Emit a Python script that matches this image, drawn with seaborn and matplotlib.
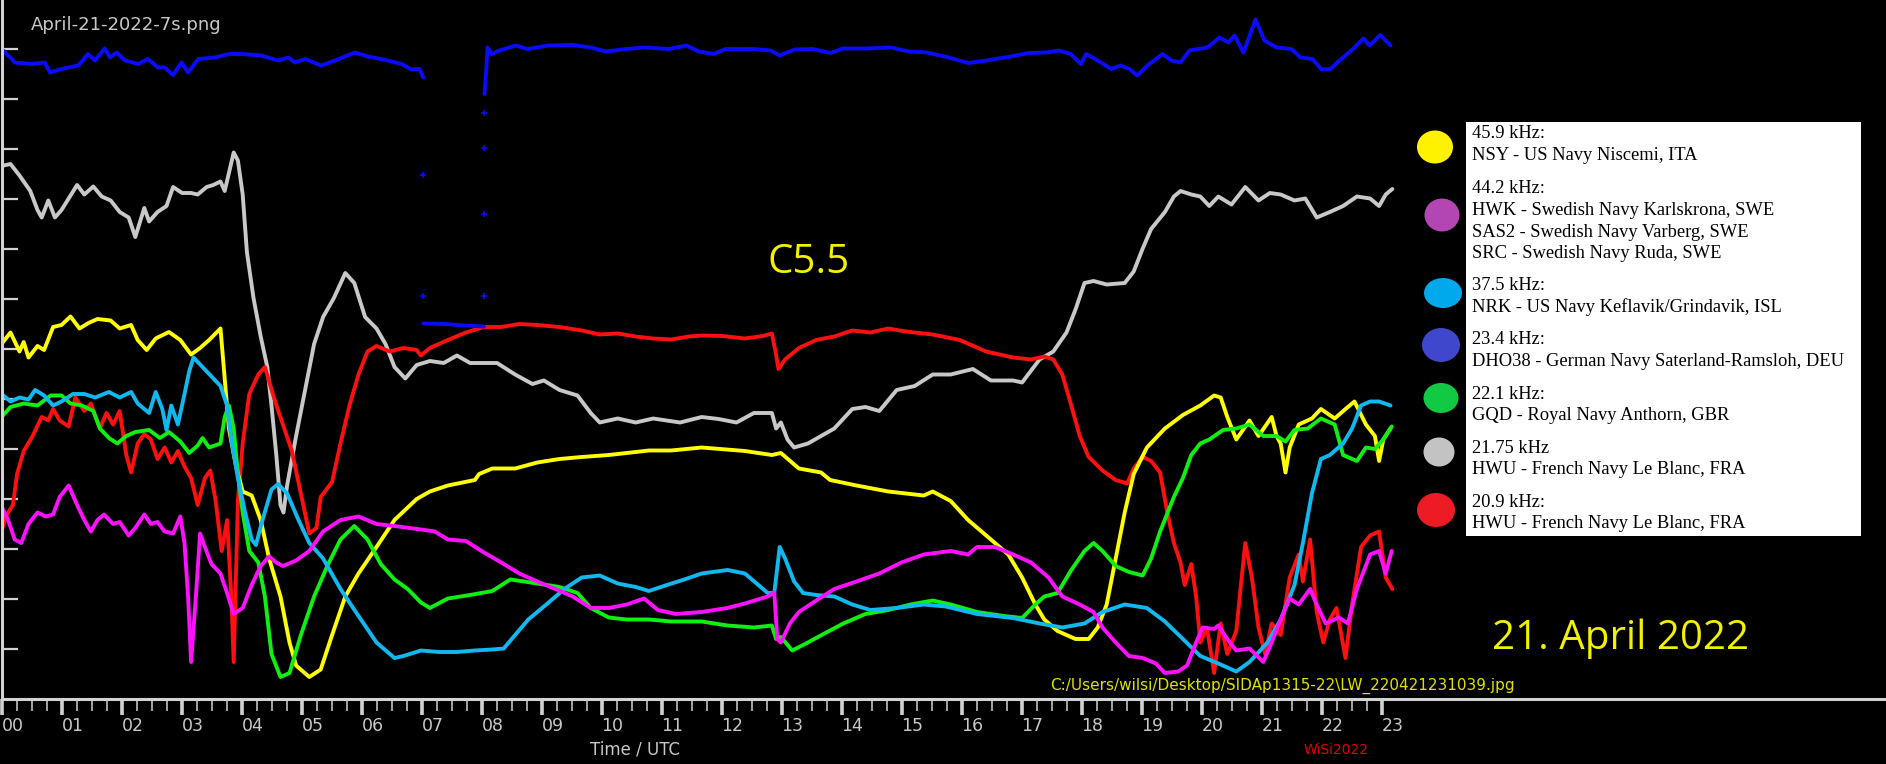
import matplotlib
matplotlib.use('Agg')
import matplotlib.pyplot as plt
import seaborn as sns
from matplotlib.patches import Rectangle, Ellipse

# --- data (hours UTC, relative signal level; one tick = 1 unit) ---
hours = list(range(24))
hour_labels = [f'{h:02d}' for h in hours]

t_yellow = [0.00, 0.15, 0.30, 0.37, 0.45, 0.60, 0.71, 0.86, 1.00, 1.15, 1.30, 1.45, 1.60, 1.82, 1.97,
            2.16, 2.27, 2.42, 2.57, 2.79, 2.98, 3.16, 3.31, 3.46, 3.65, 3.72, 3.79, 3.91, 4.02, 4.17,
            4.32, 4.46, 4.65, 4.80, 4.91, 5.13, 5.32, 5.51, 5.73, 5.95, 6.25, 6.55, 6.92, 7.14, 7.44,
            7.89, 7.96, 8.18, 8.56, 8.93, 9.30, 9.67, 10.12, 10.42, 10.79, 11.16, 11.67, 12.39, 12.84,
            12.99, 13.29, 13.66, 13.81, 14.25, 14.78, 15.37, 15.52, 15.82, 16.11, 16.49, 16.78, 17.01,
            17.23, 17.38, 17.60, 17.90, 18.12, 18.27, 18.42, 18.57, 18.72, 18.87, 19.09, 19.39, 19.69,
            19.98, 20.21, 20.32, 20.43, 20.58, 20.80, 20.95, 21.17, 21.25, 21.32, 21.40, 21.47, 21.62,
            21.84, 21.99, 22.22, 22.40, 22.55, 22.74, 22.89, 22.96, 23.03, 23.15]
v_yellow = [7.10, 7.33, 6.95, 7.14, 6.83, 7.06, 6.98, 7.44, 7.48, 7.65, 7.41, 7.52, 7.60, 7.57, 7.41,
            7.48, 7.18, 6.98, 7.21, 7.34, 7.18, 6.89, 7.02, 7.18, 7.41, 6.41, 5.41, 4.65, 4.15, 4.07,
            3.58, 2.81, 2.05, 1.13, 0.67, 0.44, 0.59, 1.28, 2.05, 2.51, 3.04, 3.58, 4.00, 4.15, 4.27,
            4.38, 4.50, 4.61, 4.61, 4.73, 4.80, 4.84, 4.88, 4.92, 4.97, 4.97, 5.03, 4.96, 4.88,
            4.92, 4.61, 4.53, 4.38, 4.27, 4.15, 4.07, 4.15, 3.96, 3.58, 3.19, 2.89, 2.43,
            1.89, 1.59, 1.36, 1.20, 1.20, 1.43, 1.89, 2.81, 3.73, 4.50, 5.03, 5.41, 5.68,
            5.87, 6.07, 6.03, 5.64, 5.19, 5.57, 5.26, 5.64, 5.26, 5.11, 4.53, 5.03, 5.49,
            5.61, 5.80, 5.61, 5.80, 5.95, 5.49, 5.26, 4.76, 5.19, 5.41]

t_magenta = [0.00, 0.11, 0.22, 0.33, 0.45, 0.60, 0.74, 0.86, 0.97, 1.12, 1.26, 1.38, 1.49, 1.60, 1.71,
             1.86, 1.97, 2.12, 2.23, 2.38, 2.49, 2.60, 2.72, 2.86, 2.98, 3.05, 3.11, 3.16, 3.24, 3.31,
             3.39, 3.50, 3.65, 3.76, 3.87, 4.02, 4.17, 4.32, 4.46, 4.58, 4.69, 4.91, 5.13, 5.36, 5.65,
             5.95, 6.25, 6.55, 6.99, 7.22, 7.44, 7.74, 8.04, 8.33, 8.63, 8.93, 9.23, 9.52, 9.82, 10.12,
             10.42, 10.71, 10.94, 11.24, 11.67, 12.10, 12.39, 12.77, 12.88, 12.93, 12.99, 13.14, 13.29,
             13.58, 13.88, 14.25, 14.63, 15.00, 15.37, 15.82, 16.11, 16.26, 16.56, 16.86, 17.16, 17.45,
             17.68, 17.97, 18.20, 18.35, 18.57, 18.79, 19.02, 19.24, 19.39, 19.61, 19.76, 19.91, 20.02,
             20.21, 20.28, 20.43, 20.58, 20.80, 21.03, 21.17, 21.32, 21.47, 21.62, 21.81, 21.92, 22.07,
             22.29, 22.44, 22.59, 22.81, 22.96, 23.07, 23.17]
v_magenta = [3.85, 3.58, 3.19, 3.12, 3.50, 3.73, 3.65, 3.69, 4.04, 4.27, 3.88, 3.58, 3.35, 3.58, 3.69,
             3.50, 3.54, 3.27, 3.42, 3.69, 3.50, 3.54, 3.35, 3.31, 3.65, 3.12, 2.05, 0.74, 2.05, 3.31,
             3.04, 2.70, 2.51, 2.12, 1.70, 1.82, 2.28, 2.66, 2.85, 2.73, 2.66, 2.77, 2.96, 3.35, 3.58,
             3.65, 3.50, 3.46, 3.39, 3.35, 3.19, 3.16, 2.93, 2.73, 2.51, 2.35, 2.20, 2.05, 1.82, 1.82,
             1.89, 2.01, 1.78, 1.70, 1.74, 1.82, 1.91, 2.05, 2.13, 1.20, 1.13, 1.51, 1.74,
             1.97, 2.20, 2.35, 2.51, 2.73, 2.89, 2.96, 2.89, 3.04, 3.04, 2.89, 2.73, 2.43,
             2.05, 1.89, 1.74, 1.43, 1.13, 0.86, 0.82, 0.71, 0.52, 0.55, 0.67, 1.13, 1.43,
             1.40, 1.47, 1.20, 0.97, 1.01, 0.74, 1.13, 1.59, 2.01, 1.89, 2.20, 1.89, 1.51,
             1.63, 1.51, 2.20, 2.89, 2.96, 2.51, 2.96]

t_cyan = [0.00, 0.15, 0.30, 0.45, 0.56, 0.71, 0.86, 1.00, 1.19, 1.38, 1.56, 1.79, 1.97, 2.16, 2.27,
          2.46, 2.57, 2.68, 2.75, 2.83, 2.94, 3.05, 3.13, 3.20, 3.35, 3.50, 3.65, 3.76, 3.83, 3.94,
          4.06, 4.17, 4.24, 4.35, 4.50, 4.61, 4.76, 4.95, 5.13, 5.36, 5.65, 5.95, 6.25, 6.55, 6.70,
          6.99, 7.29, 7.59, 7.89, 8.18, 8.37, 8.56, 8.78, 9.08, 9.38, 9.67, 9.97, 10.27, 10.57, 10.79,
          11.09, 11.38, 11.67, 12.10, 12.39, 12.77, 12.88, 12.97, 13.06, 13.21, 13.36, 13.58, 13.88,
          14.18, 14.48, 14.92, 15.37, 15.74, 16.26, 16.86, 17.30, 17.68, 18.05, 18.35, 18.72, 19.09,
          19.39, 19.69, 19.98, 20.28, 20.58, 20.80, 21.10, 21.32, 21.55, 21.69, 21.84, 21.99, 22.14,
          22.36, 22.51, 22.66, 22.81, 22.96, 23.15]
v_cyan = [6.10, 5.95, 6.03, 5.99, 6.18, 6.07, 5.87, 5.95, 6.10, 6.10, 6.03, 6.14, 6.03, 6.14, 5.91,
          5.72, 6.14, 5.80, 5.38, 5.87, 5.49, 6.10, 6.56, 6.83, 6.64, 6.45, 6.26, 5.87, 5.19, 4.42,
          3.73, 3.19, 3.08, 3.58, 4.19, 4.30, 4.11, 3.58, 3.12, 2.81, 2.20, 1.66, 1.13, 0.82, 0.86,
          0.97, 0.94, 0.94, 0.97, 0.99, 1.01, 1.28, 1.59, 1.89, 2.20, 2.43, 2.47, 2.31, 2.24, 2.16,
          2.28, 2.39, 2.51, 2.58, 2.51, 2.12, 2.12, 3.04, 2.81, 2.35, 2.12, 2.08, 2.05,
          1.89, 1.78, 1.82, 1.89, 1.85, 1.70, 1.62, 1.51, 1.43, 1.51, 1.74, 1.89, 1.82,
          1.55, 1.20, 0.86, 0.71, 0.55, 0.74, 1.13, 1.59, 2.28, 3.12, 4.11, 4.80, 4.88,
          5.11, 5.41, 5.87, 5.95, 5.95, 5.87]

t_green = [0.00, 0.15, 0.37, 0.60, 0.82, 1.00, 1.15, 1.34, 1.53, 1.64, 1.79, 1.93, 2.08, 2.23, 2.46,
           2.64, 2.79, 2.98, 3.13, 3.27, 3.35, 3.46, 3.65, 3.72, 3.79, 3.87, 3.94, 4.02, 4.13, 4.28,
           4.39, 4.50, 4.65, 4.80, 4.99, 5.21, 5.43, 5.65, 5.88, 6.10, 6.32, 6.55, 6.77, 6.99, 7.14,
           7.44, 7.81, 8.18, 8.48, 8.71, 8.93, 9.30, 9.60, 9.82, 10.12, 10.42, 10.79, 11.16, 11.67,
           12.10, 12.54, 12.84, 12.91, 12.99, 13.18, 13.44, 13.73, 14.03, 14.40, 14.78, 15.15, 15.52,
           15.82, 16.26, 16.71, 17.01, 17.23, 17.38, 17.60, 17.83, 18.05, 18.20, 18.35, 18.57, 18.79,
           19.02, 19.16, 19.31, 19.54, 19.69, 19.83, 19.98, 20.13, 20.36, 20.58, 20.80, 21.03, 21.25,
           21.40, 21.55, 21.77, 21.99, 22.22, 22.36, 22.59, 22.74, 22.89, 23.03, 23.17]
v_green = [5.64, 5.84, 5.91, 5.87, 6.07, 6.07, 5.91, 5.87, 5.76, 5.41, 5.22, 5.11, 5.26, 5.34, 5.38,
           5.22, 5.34, 5.15, 4.92, 5.07, 5.22, 5.03, 5.11, 5.64, 5.87, 5.41, 4.50, 3.73, 2.96, 2.73,
           2.05, 0.90, 0.44, 0.52, 1.28, 2.05, 2.66, 3.19, 3.46, 3.19, 2.70, 2.39, 2.20, 1.93, 1.82,
           2.01, 2.08, 2.16, 2.39, 2.35, 2.31, 2.24, 2.12, 1.82, 1.63, 1.59, 1.59, 1.55, 1.55,
           1.47, 1.43, 1.47, 1.20, 1.24, 0.97, 1.13, 1.32, 1.51, 1.70, 1.78, 1.89, 1.97,
           1.89, 1.74, 1.66, 1.62, 1.89, 2.05, 2.12, 2.58, 2.96, 3.12, 2.96, 2.66, 2.54,
           2.47, 2.81, 3.35, 4.04, 4.42, 4.88, 5.11, 5.19, 5.38, 5.41, 5.49, 5.26, 5.26,
           5.15, 5.38, 5.41, 5.61, 5.49, 4.88, 4.76, 5.03, 5.00, 5.19, 5.45]

t_gray = [0.00, 0.15, 0.30, 0.48, 0.60, 0.67, 0.78, 0.89, 1.00, 1.12, 1.26, 1.38, 1.53, 1.67, 1.82,
          1.97, 2.12, 2.23, 2.38, 2.46, 2.60, 2.75, 2.86, 3.01, 3.16, 3.27, 3.42, 3.53, 3.65, 3.72,
          3.87, 3.94, 4.02, 4.09, 4.20, 4.32, 4.43, 4.50, 4.58, 4.65, 4.70, 4.76, 4.91, 5.06, 5.21,
          5.36, 5.54, 5.73, 5.88, 6.06, 6.25, 6.40, 6.55, 6.73, 6.92, 7.14, 7.37, 7.59, 7.81, 8.04,
          8.26, 8.56, 8.85, 9.04, 9.30, 9.60, 9.82, 9.97, 10.27, 10.57, 10.86, 11.31, 11.67, 11.95,
          12.25, 12.54, 12.84, 12.91, 12.99, 13.10, 13.21, 13.44, 13.66, 13.88, 14.18, 14.40, 14.63,
          14.92, 15.22, 15.52, 15.82, 16.19, 16.49, 16.86, 17.01, 17.30, 17.53, 17.75, 17.90, 18.05,
          18.20, 18.42, 18.72, 18.87, 19.02, 19.16, 19.39, 19.54, 19.65, 19.83, 19.98, 20.13, 20.28,
          20.50, 20.73, 20.95, 21.14, 21.32, 21.55, 21.73, 21.92, 22.14, 22.36, 22.59, 22.81, 22.96,
          23.07, 23.18]
v_gray = [10.66, 10.70, 10.47, 10.16, 9.78, 9.63, 9.97, 9.63, 9.78, 10.01, 10.28, 10.09, 10.25, 10.05, 9.97,
          9.74, 9.63, 9.24, 9.82, 9.55, 9.74, 9.86, 10.24, 10.12, 10.12, 10.09, 10.24, 10.28, 10.35, 10.16,
          10.93, 10.77, 10.09, 8.94, 8.02, 7.25, 6.64, 5.87, 4.88, 3.88, 3.73, 4.27, 5.26, 6.18, 7.10,
          7.64, 8.02, 8.52, 8.32, 7.64, 7.41, 7.10, 6.64, 6.41, 6.68, 6.76, 6.72, 6.87, 6.72, 6.72,
          6.72, 6.49, 6.30, 6.37, 6.18, 6.07, 5.72, 5.53, 5.61, 5.53, 5.61, 5.53, 5.64, 5.60,
          5.53, 5.72, 5.72, 5.41, 5.53, 5.19, 5.03, 5.11, 5.26, 5.41, 5.80, 5.84, 5.76,
          6.18, 6.26, 6.49, 6.49, 6.60, 6.37, 6.37, 6.33, 6.79, 6.95, 7.33, 7.79, 8.32,
          8.36, 8.29, 8.32, 8.55, 9.01, 9.40, 9.74, 10.05, 10.16, 10.09, 10.05, 9.86, 10.05,
          9.89, 10.24, 9.97, 10.12, 10.09, 9.97, 10.01, 9.63, 9.74, 9.86, 10.05, 10.01, 9.86,
          10.09, 10.20]

t_red = [0.00, 0.07, 0.19, 0.26, 0.37, 0.52, 0.67, 0.78, 0.86, 0.97, 1.12, 1.23, 1.38, 1.49, 1.64,
         1.75, 1.86, 1.97, 2.08, 2.16, 2.27, 2.38, 2.49, 2.60, 2.72, 2.83, 2.94, 3.05, 3.16, 3.27,
         3.39, 3.48, 3.57, 3.67, 3.76, 3.83, 3.87, 3.94, 4.02, 4.13, 4.28, 4.39, 4.54, 4.69, 4.84,
         4.99, 5.13, 5.25, 5.32, 5.51, 5.65, 5.80, 5.95, 6.10, 6.25, 6.47, 6.70, 6.92, 6.99, 7.14,
         7.44, 7.74, 8.04, 8.33, 8.63, 8.93, 9.30, 9.67, 9.97, 10.27, 10.57, 10.86, 11.16, 11.46,
         11.67, 12.02, 12.39, 12.69, 12.84, 12.90, 12.95, 13.06, 13.29, 13.58, 13.88, 14.18, 14.48,
         14.78, 15.07, 15.52, 15.97, 16.41, 16.86, 17.16, 17.38, 17.53, 17.68, 17.83, 17.97, 18.12,
         18.35, 18.57, 18.76, 18.87, 19.02, 19.16, 19.31, 19.43, 19.54, 19.65, 19.72, 19.83, 19.91,
         19.98, 20.09, 20.21, 20.32, 20.43, 20.58, 20.65, 20.73, 20.84, 20.95, 21.06, 21.17, 21.32,
         21.47, 21.62, 21.69, 21.81, 21.92, 22.03, 22.14, 22.25, 22.40, 22.51, 22.66, 22.81, 22.96,
         23.07, 23.18]
v_red = [3.35, 3.65, 3.88, 4.50, 4.96, 5.26, 5.64, 5.57, 5.80, 5.57, 5.45, 6.03, 5.76, 5.91, 5.41,
         5.72, 5.49, 5.76, 4.88, 4.53, 5.11, 5.30, 5.19, 4.80, 5.03, 4.73, 4.96, 4.65, 4.42, 3.88,
         4.42, 4.57, 3.96, 2.96, 3.58, 2.05, 0.74, 3.96, 5.11, 6.10, 6.49, 6.64, 6.03, 5.49, 4.96,
         4.11, 3.31, 3.42, 4.04, 4.34, 5.11, 5.87, 6.49, 6.95, 7.06, 6.95, 7.02, 6.98, 6.87, 7.02,
         7.18, 7.33, 7.44, 7.44, 7.50, 7.48, 7.44, 7.37, 7.29, 7.31, 7.25, 7.21, 7.19, 7.25,
         7.27, 7.26, 7.21, 7.26, 7.31, 6.95, 6.60, 6.79, 7.02, 7.18, 7.25, 7.37, 7.33,
         7.41, 7.35, 7.29, 7.18, 6.95, 6.83, 6.79, 6.85, 6.79, 6.49, 5.87, 5.26, 4.84,
         4.57, 4.38, 4.31, 4.61, 4.84, 4.76, 4.53, 3.73, 3.12, 2.73, 2.28, 2.70, 2.05,
         1.13, 1.43, 0.52, 1.51, 0.90, 1.36, 2.20, 3.12, 2.43, 1.43, 0.90, 1.51, 1.28,
         2.43, 2.89, 2.35, 3.19, 1.74, 1.13, 1.59, 1.82, 0.82, 1.89, 3.04, 3.27, 3.35,
         2.43, 2.20]

# DHO38 23.4 kHz: three pieces (before the gap, the low stretch, after the recovery)
t_blue_a = [0.00, 0.17, 0.22, 0.50, 0.72, 0.81, 1.00, 1.28, 1.44, 1.56, 1.72, 1.81, 1.92, 2.06, 2.28,
            2.44, 2.61, 2.72, 2.86, 3.00, 3.11, 3.28, 3.56, 3.78, 4.00, 4.33, 4.61, 4.78, 4.89, 5.06,
            5.33, 5.56, 5.89, 6.11, 6.44, 6.67, 6.83, 6.97, 7.03]
v_blue_a = [13.00, 12.80, 12.73, 12.70, 12.73, 12.53, 12.60, 12.67, 12.90, 12.77, 13.01, 12.83, 12.93, 12.77, 12.70,
            12.80, 12.63, 12.63, 12.48, 12.73, 12.53, 12.80, 12.83, 12.90, 12.90, 12.87, 12.77, 12.83, 12.73, 12.80,
            12.67, 12.77, 12.93, 12.85, 12.77, 12.70, 12.59, 12.60, 12.43]
t_blue_b = [7.03, 7.40, 7.70, 8.04]
v_blue_b = [7.51, 7.50, 7.47, 7.45]
t_blue_c = [8.05, 8.08, 8.10, 8.17, 8.30, 8.57, 8.77, 9.12, 9.52, 9.82, 10.07, 10.42, 10.72, 11.12, 11.42,
            11.62, 11.87, 12.07, 12.52, 12.82, 12.97, 13.22, 13.52, 13.82, 14.02, 14.42, 14.82, 15.12, 15.42,
            15.72, 16.12, 16.42, 16.82, 17.12, 17.42, 17.62, 17.82, 17.99, 18.08, 18.27, 18.50, 18.65, 18.80,
            18.93, 19.10, 19.35, 19.50, 19.65, 19.80, 20.10, 20.30, 20.45, 20.55, 20.70, 20.90, 21.05, 21.25,
            21.50, 21.65, 21.85, 22.00, 22.15, 22.30, 22.50, 22.70, 22.80, 22.98, 23.15]
v_blue_c = [12.10, 12.60, 13.03, 12.90, 12.97, 13.07, 13.00, 13.07, 13.08, 13.03, 12.95, 13.00, 13.03, 13.00, 13.07,
            12.95, 12.90, 13.00, 13.00, 12.97, 12.87, 12.99, 13.00, 12.92, 13.01, 13.01, 13.03, 12.95, 12.93,
            12.85, 12.72, 12.77, 12.85, 12.92, 12.93, 12.97, 12.90, 12.70, 12.90, 12.77, 12.60, 12.67, 12.60,
            12.47, 12.67, 12.90, 12.77, 12.73, 12.97, 13.03, 13.23, 13.13, 13.27, 12.93, 13.59, 13.17, 13.03,
            13.00, 12.83, 12.80, 12.59, 12.60, 12.77, 12.97, 13.21, 13.07, 13.28, 13.07]
t_blue_dots = [7.03, 7.03, 8.04, 8.04, 8.04, 8.04]
v_blue_dots = [10.48, 8.07, 8.07, 9.70, 11.03, 11.73]

legend_colors = ['#fff200', '#b446b4', '#00a8ec', '#3f48cc', '#12c944', '#c3c3c3', '#ed1c24']
legend_lines = [
    ['45.9 kHz:', 'NSY - US Navy Niscemi, ITA'],
    ['44.2 kHz:', 'HWK - Swedish Navy Karlskrona, SWE', 'SAS2 - Swedish Navy Varberg, SWE',
     'SRC - Swedish Navy Ruda, SWE'],
    ['37.5 kHz:', 'NRK - US Navy Keflavik/Grindavik, ISL'],
    ['23.4 kHz:', 'DHO38 - German Navy Saterland-Ramsloh, DEU'],
    ['22.1 kHz:', 'GQD - Royal Navy Anthorn, GBR'],
    ['21.75 kHz', 'HWU - French Navy Le Blanc, FRA'],
    ['20.9 kHz:', 'HWU - French Navy Le Blanc, FRA'],
]

# --- figure ---
sns.set_style('dark', rc={'axes.facecolor': 'black', 'figure.facecolor': 'black'})
W, H = 1886, 764
fig = plt.figure(figsize=(W / 100, H / 100), dpi=100)
ax = fig.add_axes([1.5 / W, (H - 699) / H, (W - 1.5) / W, 699 / H])
ax.set_facecolor('black')
ax.grid(False)

lw = 2.8
series = [
    (t_gray, v_gray, '#c8c8c8'),
    (t_red, v_red, '#ff1010'),
    (t_yellow, v_yellow, '#ffff00'),
    (t_green, v_green, '#10f010'),
    (t_cyan, v_cyan, '#10b8f0'),
    (t_magenta, v_magenta, '#ff10ff'),
    (t_blue_a, v_blue_a, '#0a0aff'),
    (t_blue_b, v_blue_b, '#0a0aff'),
    (t_blue_c, v_blue_c, '#0a0aff'),
]
for t, v, c in series:
    sns.lineplot(x=t, y=v, color=c, lw=lw, sort=False, estimator=None, ax=ax)
sns.scatterplot(x=t_blue_dots, y=v_blue_dots, color='#0a0aff', marker='+', s=25, linewidth=1.2, ax=ax)

ax.set_xlim(0, (W - 1.5) / 60)
ax.set_ylim(0, 699 / 50)
ax.set_xlabel('')
ax.set_ylabel('')

axis_col = '#d2d2d2'
for side in ['top', 'right']:
    ax.spines[side].set_visible(False)
for side in ['left', 'bottom']:
    ax.spines[side].set_visible(True)
    ax.spines[side].set_color(axis_col)
    ax.spines[side].set_linewidth(2.2)

ax.set_xticks(hours)
ax.set_xticklabels(hour_labels)
ax.set_xticks([h + q / 4 for h in hours[:-1] for q in range(1, 4)], minor=True)
ax.tick_params(axis='x', which='major', direction='out', length=11.5, width=2.6, color=axis_col,
               labelcolor='#c8c8c8', labelsize=12.5, pad=1.5, bottom=True)
ax.tick_params(axis='x', which='minor', direction='out', length=8.5, width=1.1, color=axis_col, bottom=True)
for lab in ax.get_xticklabels():
    lab.set_horizontalalignment('left')
ax.set_yticks(range(1, 14))
ax.tick_params(axis='y', which='major', direction='in', length=11.5, width=1.6, color=axis_col,
               labelleft=False, left=True)

# --- overlay in pixel coordinates for annotations and the painted legend ---
ov = fig.add_axes([0, 0, 1, 1])
ov.set_xlim(0, W)
ov.set_ylim(H, 0)
ov.axis('off')
ov.patch.set_alpha(0)

ov.text(31, 25, 'April-21-2022-7s.png', color='#c8c8c8', fontsize=13, ha='left', va='center',
        family='DejaVu Sans')
ov.text(768, 273, 'C5.5', color='#f2f200', fontsize=29, ha='left', va='baseline', family='Open Sans')
ov.text(1492, 649, '21. April 2022', color='#f2f200', fontsize=29, ha='left', va='baseline',
        family='Open Sans')
ov.text(1050, 686, 'C:/Users/wilsi/Desktop/SIDAp1315-22\\LW_220421231039.jpg', color='#e0e000',
        fontsize=11, ha='left', va='center', family='DejaVu Sans')
ov.text(635, 750, 'Time / UTC', color='#c8c8c8', fontsize=12, ha='center', va='center',
        family='DejaVu Sans')
ov.text(1336, 750, 'WiSi2022', color='#e00000', fontsize=10, ha='center', va='center',
        family='DejaVu Sans')

ov.add_patch(Rectangle((1466, 122), 395, 414, facecolor='white', edgecolor='none'))
baselines = [[138, 160], [193, 215, 237, 258], [290, 312], [344, 366], [399, 420], [453, 474], [507, 528]]
dots = [(1435, 147, 36, 33), (1442, 215, 35, 33), (1443, 293, 38, 30), (1441, 345, 38, 34),
        (1441, 398, 35, 30), (1439, 452, 31, 29), (1436, 510, 38, 34)]
for lines, ys, col, (cx, cy, ew, eh) in zip(legend_lines, baselines, legend_colors, dots):
    ov.add_patch(Ellipse((cx, cy), ew, eh, facecolor=col, edgecolor='none'))
    for txt, y in zip(lines, ys):
        ov.text(1472, y, txt, color='black', fontsize=13.3, ha='left', va='baseline',
                family='Liberation Serif')

fig.savefig('out.png', dpi=100, facecolor='black')
